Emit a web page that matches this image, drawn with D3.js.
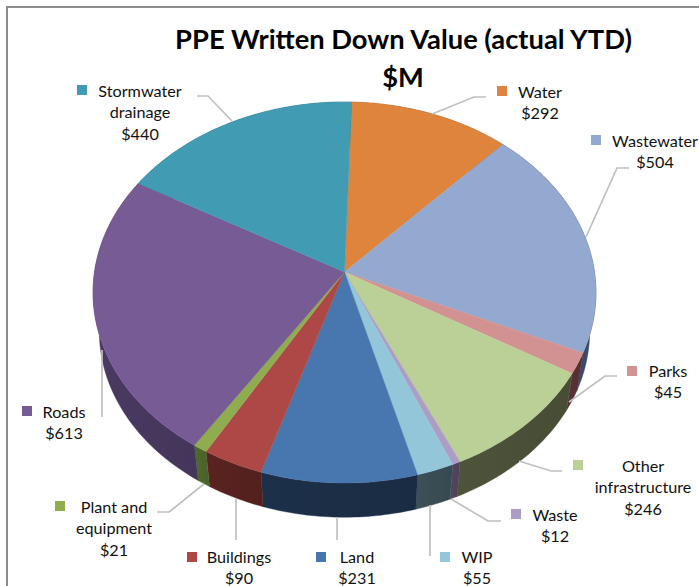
<!DOCTYPE html>
<html>
<head>
<meta charset="utf-8">
<script src="https://cdn.jsdelivr.net/npm/d3@7"></script>
<style>
body { margin: 0; background: #fff; }
text { font-family: Lato, "Open Sans", sans-serif; fill: #111; }
</style>
</head>
<body>
<div id="chart"></div>
<script>
// clockwise from the top of the pie
var categories = ['Water', 'Wastewater', 'Parks', 'Other infrastructure', 'Waste', 'WIP', 'Land', 'Buildings', 'Plant and equipment', 'Roads', 'Stormwater drainage'];
var values = [292, 504, 45, 246, 12, 55, 231, 90, 21, 613, 440];
var topColors = ['#de843c', '#94a9d0', '#d39292', '#bbd097', '#ad9cc4', '#93c6d8', '#4876ae', '#ae4846', '#8fad4e', '#775b95', '#419bb2'];
var sideColors = ['#8a5226', '#3f5070', '#5b3236', '#4e543a', '#54465f', '#3c5058', '#1c3049', '#5a2320', '#4f6a2d', '#4a3a62', '#285f6e'];

// label layout, same order as categories
var labelLines = [['Water'], ['Wastewater'], ['Parks'], ['Other', 'infrastructure'], ['Waste'], ['WIP'], ['Land'], ['Buildings'], ['Plant and', 'equipment'], ['Roads'], ['Stormwater', 'drainage']];
var labelPos = [[540, 92], [655, 141], [668, 371], [643, 466], [555, 515], [477, 557], [357, 557], [239, 557], [114, 507], [64, 412], [140, 91]];
var swatchPos = [[497, 86], [591, 135], [627, 366], [573, 460], [511, 509], [440, 552], [316, 552], [187, 552], [55, 501], [22, 406], [77, 85]];
var leaders = [
    [[486, 97], [474, 97], [432, 114]],
    [[629, 168], [617, 168], [586, 237]],
    [[617, 376], [605, 376], [569, 402]],
    [[562, 471], [551, 471], [519, 461]],
    [[501, 521], [488, 521], [451, 499]],
    [[430, 556], [430, 505]],
    [[337, 540], [337, 517]],
    [[236, 540], [236, 499]],
    [[157, 512], [169, 512], [204, 484]],
    [[102, 417], [102, 350]],
    [[197, 96], [208, 96], [232, 121]]
];

var width = 699;
var height = 586;

// pie tilted in perspective
var cx = 344.5, cy = 272;
var radiusX = 250, radiusY = 188.3, persp = 0.1076;
var depth = 39.5, shrink = 0.975;

var svg = d3.select('#chart')
    .append('svg')
    .attr('width', width)
    .attr('height', height)
    .style('display', 'block');

var defs = svg.append('defs');

function project(a, lower) {
    var w = 1 + persp * Math.cos(a);
    var dx = radiusX * Math.sin(a) / w;
    var dy = -radiusY * Math.cos(a) / w;
    if (lower) {
        return [cx + shrink * dx, cy + depth + shrink * dy];
    }
    return [cx + dx, cy + dy];
}

function rim(d, lower) {
    var n = Math.max(2, Math.ceil((d.endAngle - d.startAngle) * 60));
    return d3.range(n + 1).map(function(i) {
        return project(d.startAngle + (d.endAngle - d.startAngle) * i / n, lower);
    });
}

var pie = d3.pie()
    .sort(null)
    .startAngle(0.032)
    .endAngle(0.032 + 2 * Math.PI);

var slices = pie(values);
var line = d3.line();

// chart frame
svg.append('path')
    .attr('d', line([[7, height], [7, 7], [width, 7]]))
    .attr('fill', 'none')
    .attr('stroke', '#8c8c8c')
    .attr('stroke-width', 2);

slices.forEach(function(d, i) {
    var g = defs.append('linearGradient').attr('id', 'side' + i);
    g.append('stop').attr('offset', '0%').attr('stop-color', sideColors[i]);
    g.append('stop').attr('offset', '100%').attr('stop-color', d3.color(sideColors[i]).darker(0.25));
});

// walls first, the top face covers the back of them
svg.append('g').selectAll('path')
    .data(slices)
    .enter()
    .append('path')
    .attr('d', function(d) {
        return line(rim(d, false).concat(rim(d, true).reverse())) + 'Z';
    })
    .attr('fill', function(d, i) { return 'url(#side' + i + ')'; })
    .attr('stroke', function(d, i) { return sideColors[i]; })
    .attr('stroke-width', 0.4);

svg.append('g').selectAll('path')
    .data(slices)
    .enter()
    .append('path')
    .attr('d', function(d) {
        return line([[cx, cy]].concat(rim(d, false))) + 'Z';
    })
    .attr('fill', function(d, i) { return topColors[i]; })
    .attr('stroke', function(d, i) { return topColors[i]; })
    .attr('stroke-width', 0.4);

// leader lines
svg.append('g').selectAll('path')
    .data(leaders)
    .enter()
    .append('path')
    .attr('d', function(d) { return line(d); })
    .attr('fill', 'none')
    .attr('stroke', '#c0c0c0')
    .attr('stroke-width', 1.7);

// legend keys
svg.append('g').selectAll('rect')
    .data(swatchPos)
    .enter()
    .append('rect')
    .attr('x', function(d) { return d[0]; })
    .attr('y', function(d) { return d[1]; })
    .attr('width', 10)
    .attr('height', 10)
    .attr('fill', function(d, i) { return topColors[i]; });

// labels
var labels = svg.append('g').selectAll('text')
    .data(categories)
    .enter()
    .append('text')
    .attr('text-anchor', 'middle')
    .attr('font-size', 16.2)
    .attr('transform', function(d, i) {
        return 'translate(' + labelPos[i][0] + ',' + labelPos[i][1] + ')';
    });

labels.each(function(d, i) {
    var t = d3.select(this);
    labelLines[i].concat('$' + values[i]).forEach(function(s, j) {
        t.append('tspan')
            .attr('x', 0)
            .attr('y', j * 21.7)
            .attr('dy', '0.35em')
            .text(s);
    });
});

// title
svg.append('text')
    .attr('x', 403.5)
    .attr('y', 49)
    .attr('text-anchor', 'middle')
    .attr('font-size', 27.3)
    .attr('font-weight', 700)
    .style('fill', '#000')
    .text('PPE Written Down Value (actual YTD)');

svg.append('text')
    .attr('x', 403)
    .attr('y', 87)
    .attr('text-anchor', 'middle')
    .attr('font-size', 27.3)
    .attr('font-weight', 700)
    .style('fill', '#000')
    .text('$M');
</script>
</body>
</html>
